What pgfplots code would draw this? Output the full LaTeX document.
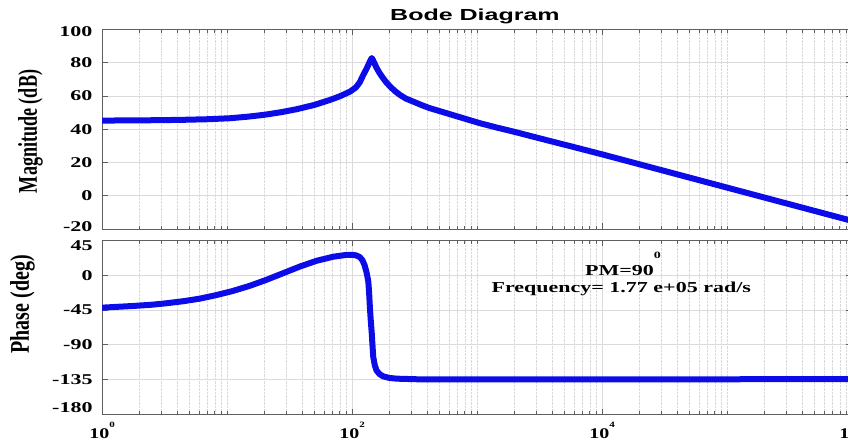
\documentclass[border=0pt]{standalone}
\usepackage{graphicx}
\usepackage{pgfplots}
\pgfplotsset{compat=1.18}
\usepackage{fontspec}
\setmainfont{Liberation Serif}
\newfontfamily\titlefont{Liberation Sans}
\definecolor{curve}{RGB}{12,12,232}
\definecolor{frame}{RGB}{95,95,95}
\newcommand{\sq}[1]{\scalebox{1}[0.68]{#1}}
\newcommand{\lab}[2]{\raisebox{#1}[\height][\depth]{\sq{#2}}}
\newcommand{\xl}[1]{\scalebox{1}[0.74]{10\raisebox{15pt}{\fontsize{11}{11}\selectfont #1}}}
\begin{document}
\begin{tikzpicture}
\begin{axis}[scale only axis, width=750pt,
    xmode=log, xmin=1, xmax=1e6,
    xtick={1,100,10000,1000000},
    minor xtick={2,3,4,5,6,7,8,9,10,20,30,40,50,60,70,80,90,200,300,400,500,600,700,800,900,1000,2000,3000,4000,5000,6000,7000,8000,9000,20000,30000,40000,50000,60000,70000,80000,90000,100000,200000,300000,400000,500000,600000,700000,800000,900000},
    xmajorgrids, xminorgrids, ymajorgrids,
    major grid style={solid, gray!28, line width=0.8pt},
    minor grid style={densely dotted, gray!30, line width=0.6pt},
    tick align=inside, major tick length=6pt, minor tick length=3.5pt,
    axis line style={frame, line width=1pt},
    tick style={frame, line width=0.8pt},
    every tick label/.append style={font=\fontsize{22}{24}\selectfont\bfseries},
    yticklabel style={inner sep=0pt, anchor=east, xshift=-9.3pt},
  at={(102pt,-29.4pt)}, anchor=north west, height=199.6pt,
  ymin=-20, ymax=100, ytick={-20,0,20,40,60,80,100},
  yticklabels={\lab{2.6pt}{-20},\sq{0},\sq{20},\sq{40},\sq{60},\sq{80},\lab{-2.3pt}{100}},
  xticklabels={},
  ylabel={\fontsize{27}{29}\selectfont\bfseries\scalebox{0.67}[1]{Magnitude (dB)}},
  ylabel style={at={(rel axis cs:-0.0953,0.4887)}, anchor=center, inner sep=0pt},
  title={\titlefont\bfseries\fontsize{25}{27}\selectfont\scalebox{1}[0.64]{Bode Diagram}},
  title style={at={(rel axis cs:0.4973,1.0441)}, anchor=base, inner sep=0pt, yshift=-6pt},
]
\addplot[curve, line width=6pt, line join=round, line cap=round] coordinates {
(1,45.2) (2,45.3) (4.2,45.6) (7,46) (10.6,46.6) (14.5,47.5) (19.6,48.6) (27,50.2) (36,52.0) (50,54.6) (66.7,57.6) (80,59.8) (96.4,62.6)
(107,65) (115,68) (123,72.6) (130,76) (135,78.6) (140,81.2) (144,82.8) (147,81.6) (150,80.2) (157,77)
(167,73.5) (178,70.5) (189,68) (201,65.8) (220,63) (242,60.6) (270,58.4) (309,56.6) (360,54.5) (421,52.6)
(573,49.6) (777,46.6) (1057,43.6) (1438,41.0) (1950,38.6) (2655,36.0) (3840,32.9) (6000,29.2) (10000,24.9)
(100000,4.9) (1000000,-15.1)
};
\end{axis}
\begin{axis}[scale only axis, width=750pt,
    xmode=log, xmin=1, xmax=1e6,
    xtick={1,100,10000,1000000},
    minor xtick={2,3,4,5,6,7,8,9,10,20,30,40,50,60,70,80,90,200,300,400,500,600,700,800,900,1000,2000,3000,4000,5000,6000,7000,8000,9000,20000,30000,40000,50000,60000,70000,80000,90000,100000,200000,300000,400000,500000,600000,700000,800000,900000},
    xmajorgrids, xminorgrids, ymajorgrids,
    major grid style={solid, gray!28, line width=0.8pt},
    minor grid style={densely dotted, gray!30, line width=0.6pt},
    tick align=inside, major tick length=6pt, minor tick length=3.5pt,
    axis line style={frame, line width=1pt},
    tick style={frame, line width=0.8pt},
    every tick label/.append style={font=\fontsize{22}{24}\selectfont\bfseries},
    yticklabel style={inner sep=0pt, anchor=east, xshift=-9.3pt},
    xticklabel style={anchor=base, yshift=-23.8pt, inner sep=0pt, font=\fontsize{20}{22}\selectfont\bfseries},
  at={(102pt,-240.3pt)}, anchor=north west, height=174.2pt,
  ymin=-180, ymax=45, ytick={-180,-135,-90,-45,0,45},
  yticklabels={\lab{6.8pt}{-180},\sq{-135},\sq{-90},\sq{-45},\sq{0},\lab{-5.4pt}{45}},
  xticklabels={\xl{0},\xl{2},\xl{4},\xl{6}},
  ylabel={\fontsize{27}{29}\selectfont\bfseries\scalebox{0.74}[1]{Phase (deg)}},
  ylabel style={at={(rel axis cs:-0.106,0.633)}, anchor=center, inner sep=0pt},
]
\addplot[curve, line width=6pt, line join=round, line cap=round] coordinates {
(1,-42) (1.78,-39.8) (2.5,-38.2) (3.28,-36.3) (4.5,-33.6) (6.08,-30.3) (8.3,-25.6) (11.2,-20.3) (15.2,-13.8) (20.7,-6)
(28.2,2.6) (38.4,11.2) (52.2,18.6) (70.8,23.8) (90.6,26.2) (100,26.3) (108,25.5) (115,23.5) (121,19.5) (126,13) (131,3)
(135,-8) (137,-22) (139,-41.6) (141.5,-60) (144,-76) (146,-92) (148,-106) (152,-116) (157,-123) (166,-127.8)
(178,-130.8) (200,-132.8) (227,-133.7) (350,-134.6) (1000,-134.6) (1000000,-134.4)
};
\end{axis}
\node[anchor=base] at (623pt,-275pt) {\fontsize{22}{24}\selectfont\bfseries\scalebox{1}[0.69]{PM=90\raisebox{24pt}{\fontsize{14}{14}\selectfont 0}}};
\node[anchor=base] at (621.3pt,-292.3pt) {\fontsize{22}{24}\selectfont\bfseries\scalebox{1}[0.69]{Frequency= 1.77 e+05 rad/s}};
\pgfresetboundingbox
\useasboundingbox (0pt,0pt) rectangle (848pt,-445pt);
\end{tikzpicture}
\end{document}
